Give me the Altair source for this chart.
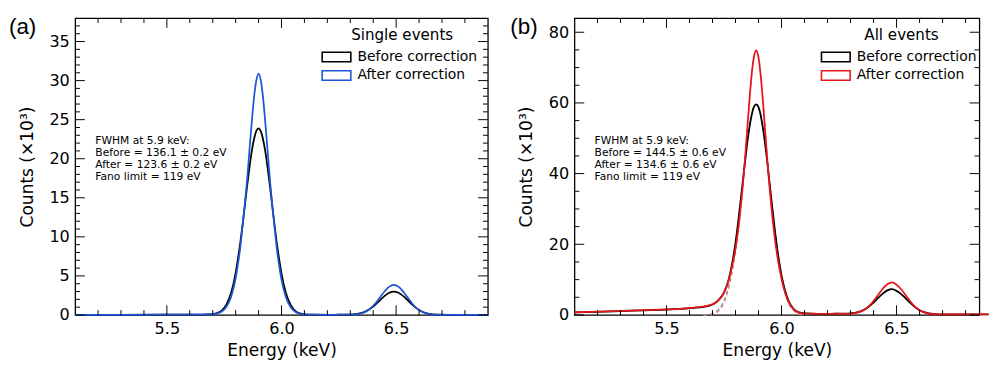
import altair as alt
import pandas as pd

FONT = "DejaVu Sans"
BLUE = "#1f55d8"
RED = "#e8161b"
SERIES = ["Before correction", "After correction"]

# ---------------- panel (a): single events ----------------
energy_a = [5.10, 5.30, 5.50, 5.60, 5.66, 5.70, 5.72, 5.74, 5.76, 5.78, 5.80,
            5.81, 5.82, 5.83, 5.84, 5.85, 5.86, 5.87, 5.88, 5.89, 5.90,
            5.91, 5.92, 5.93, 5.94, 5.95, 5.96, 5.97, 5.98, 5.99, 6.00,
            6.02, 6.04, 6.06, 6.08, 6.10, 6.14, 6.20, 6.25,
            6.29, 6.31, 6.33, 6.35, 6.37, 6.39, 6.41, 6.43, 6.45, 6.47, 6.49,
            6.51, 6.53, 6.55, 6.57, 6.59, 6.61, 6.63, 6.65, 6.67, 6.69,
            6.74, 6.80, 6.90]
before_a = [0.02, 0.02, 0.03, 0.04, 0.06, 0.12, 0.25, 0.58, 1.35, 2.8, 5.4,
            7.2, 9.2, 11.5, 14.0, 16.5, 18.8, 20.9, 22.5, 23.55, 23.9,
            23.5, 22.4, 20.8, 18.7, 16.4, 13.9, 11.4, 9.1, 7.1, 5.3,
            2.75, 1.28, 0.52, 0.2, 0.08, 0.03, 0.02, 0.03,
            0.04, 0.07, 0.13, 0.26, 0.5, 0.86, 1.34, 1.9, 2.44, 2.85, 3.0,
            2.85, 2.44, 1.9, 1.33, 0.84, 0.48, 0.25, 0.12, 0.05, 0.03,
            0.02, 0.02, 0.02]
after_a = [0.02, 0.02, 0.03, 0.04, 0.06, 0.1, 0.2, 0.45, 1.05, 2.3, 4.7,
           6.5, 8.6, 11.3, 14.2, 17.3, 21.0, 24.6, 27.8, 30.0, 30.9,
           30.0, 27.7, 24.4, 20.8, 17.1, 14.0, 11.1, 8.4, 6.3, 4.5,
           2.2, 1.0, 0.42, 0.16, 0.07, 0.03, 0.02, 0.03,
           0.03, 0.05, 0.1, 0.22, 0.46, 0.88, 1.5, 2.27, 3.03, 3.63, 3.85,
           3.63, 3.02, 2.25, 1.47, 0.85, 0.44, 0.2, 0.09, 0.04, 0.02,
           0.02, 0.02, 0.02]

# ---------------- panel (b): all events ----------------
energy_b = [5.10, 5.20, 5.30, 5.40, 5.50, 5.56, 5.62, 5.66, 5.69, 5.71, 5.73, 5.75, 5.77, 5.79,
            5.80, 5.81, 5.82, 5.83, 5.84, 5.85, 5.86, 5.87, 5.88, 5.89,
            5.90, 5.91, 5.92, 5.93, 5.94, 5.95, 5.96, 5.97, 5.98, 5.99,
            6.01, 6.03, 6.05, 6.07, 6.09, 6.13, 6.18, 6.24,
            6.28, 6.30, 6.32, 6.34, 6.36, 6.38, 6.40, 6.42, 6.44, 6.46, 6.48,
            6.50, 6.52, 6.54, 6.56, 6.58, 6.60, 6.62, 6.64, 6.66, 6.68,
            6.74, 6.80, 6.90]
before_b = [0.7, 0.9, 1.1, 1.3, 1.5, 1.7, 2.0, 2.3, 2.7, 3.3, 4.5, 6.3, 10.0, 16.3,
            20.5, 25.5, 31.1, 36.8, 42.6, 48.1, 52.8, 56.5, 58.9, 59.6,
            58.8, 56.3, 52.5, 47.7, 42.1, 36.2, 30.3, 24.6, 19.4, 14.9,
            8.2, 4.1, 1.9, 0.9, 0.5, 0.35, 0.3, 0.35,
            0.35, 0.43, 0.61, 0.94, 1.51, 2.36, 3.52, 4.81, 6.06, 6.97, 7.3,
            6.82, 5.91, 4.66, 3.37, 2.21, 1.36, 0.79, 0.46, 0.28, 0.2,
            0.15, 0.15, 0.15]
after_b = [0.75, 0.95, 1.15, 1.35, 1.55, 1.75, 2.05, 2.4, 2.8, 3.4, 4.5, 6.3, 9.8, 15.3,
           18.8, 23.4, 28.9, 35.4, 43.1, 51.6, 60.3, 67.9, 73.0, 74.9,
           72.8, 67.4, 59.8, 51.0, 42.4, 34.6, 27.9, 22.2, 17.4, 13.5,
           7.5, 3.8, 1.75, 0.8, 0.45, 0.35, 0.3, 0.35,
           0.34, 0.4, 0.55, 0.89, 1.51, 2.52, 3.96, 5.7, 7.43, 8.71, 9.2,
           8.56, 7.28, 5.55, 3.81, 2.37, 1.36, 0.74, 0.4, 0.25, 0.19,
           0.15, 0.15, 0.15]
fit_energy_b = [5.66, 5.68, 5.70, 5.72, 5.74, 5.76, 5.78, 5.80, 5.82, 5.84, 5.86, 5.88,
                5.89, 5.90, 5.92, 5.94, 5.96, 5.98, 6.00, 6.02, 6.04, 6.06, 6.08, 6.10]
fit_before_b = [0.04, 0.14, 0.42, 1.14, 2.73, 5.88, 11.35, 19.6, 30.5, 42.3, 52.7, 58.8,
                59.6, 58.8, 52.7, 42.3, 30.5, 19.6, 11.35, 5.88, 2.73, 1.14, 0.42, 0.14]
fit_after_b = [0.01, 0.05, 0.2, 0.8, 2.2, 5.2, 10.3, 17.8, 28.3, 42.8, 60.2, 73.0,
               74.9, 73.0, 60.2, 42.8, 28.3, 17.8, 10.3, 5.2, 2.2, 0.8, 0.2, 0.05]

# ---------------- ticks & labels ----------------
x_major = [5.5, 6.0, 6.5]
x_minor = [5.2, 5.3, 5.4, 5.6, 5.7, 5.8, 5.9, 6.1, 6.2, 6.3, 6.4, 6.6, 6.7, 6.8]
y_major_a = [0, 5, 10, 15, 20, 25, 30, 35]
y_minor_a = [v for v in range(1, 38) if v % 5 != 0]
y_major_b = [0, 20, 40, 60, 80]
y_minor_b = [v for v in range(5, 84, 5) if v % 20 != 0]

text_a = ["FWHM at 5.9 keV:", "Before = 136.1 \u00b1 0.2 eV",
          "After = 123.6 \u00b1 0.2 eV", "Fano limit = 119 eV"]
text_b = ["FWHM at 5.9 keV:", "Before = 144.5 \u00b1 0.6 eV",
          "After = 134.6 \u00b1 0.6 eV", "Fano limit = 119 eV"]

H = 305
W_A = 424
W_B = 416
MAJ = 10
MIN = 5


def tick_layers(xs, ys, xscale, yscale, xaxis, yaxis, W, length):
    layers = []
    dx = pd.DataFrame({"E": xs})
    dy = pd.DataFrame({"C": ys})
    r = dict(color="black", strokeWidth=1)
    layers.append(alt.Chart(dx).mark_rule(**r).encode(
        x=alt.X("E:Q", scale=xscale, axis=xaxis), y=alt.value(H), y2=alt.value(H - length)))
    layers.append(alt.Chart(dx).mark_rule(**r).encode(
        x=alt.X("E:Q", scale=xscale, axis=xaxis), y=alt.value(0), y2=alt.value(length)))
    layers.append(alt.Chart(dy).mark_rule(**r).encode(
        y=alt.Y("C:Q", scale=yscale, axis=yaxis), x=alt.value(0), x2=alt.value(length)))
    layers.append(alt.Chart(dy).mark_rule(**r).encode(
        y=alt.Y("C:Q", scale=yscale, axis=yaxis), x=alt.value(W), x2=alt.value(W - length)))
    return layers


def panel(energy, before, after, color_after, xdomain, ymax, ymaj, ymin, W,
          legend_title, texts, tag, tag_x, fits=None):
    xscale = alt.Scale(domain=xdomain, nice=False, zero=False)
    yscale = alt.Scale(domain=[0, ymax], nice=False)
    cscale = alt.Scale(domain=SERIES, range=["black", color_after])
    legend = alt.Legend(
        title=legend_title, orient="none", legendX=258, legendY=10,
        symbolType="M-1.55,-0.51H1.55V0.51H-1.55Z", symbolSize=361,
        symbolStrokeWidth=1.6, symbolFillColor="transparent",
        labelFont=FONT, labelFontSize=14.3, labelColor="black", labelOffset=11,
        titleFont=FONT, titleFontSize=15.5, titleFontWeight="normal", titleColor="black",
        titleAnchor="middle", titlePadding=4, rowPadding=0, padding=0)
    xaxis = alt.Axis(values=x_major, format=".1f", title="Energy (keV)", ticks=False,
                     tickSize=0, domain=False, grid=False, labelFont=FONT, labelFontSize=16.5,
                     labelColor="black", titleFont=FONT, titleFontSize=17.5,
                     titleFontWeight="normal", titleColor="black", labelPadding=6,
                     titlePadding=5)
    yaxis = alt.Axis(values=ymaj, format="d", title="Counts (\u00d710\u00b3)", ticks=False,
                     tickSize=0, domain=False, grid=False, labelFont=FONT, labelFontSize=16.5,
                     labelColor="black", titleFont=FONT, titleFontSize=17.5,
                     titleFontWeight="normal", titleColor="black", labelPadding=6,
                     titlePadding=13)
    layers = []
    if fits is not None:
        fe, fb, fa, fcols = fits
        for vals, col in ((fb, fcols[0]), (fa, fcols[1])):
            dff = pd.DataFrame({"E": fe, "C": vals})
            layers.append(alt.Chart(dff).mark_line(
                strokeWidth=1.3, strokeDash=[4, 3], color=col, interpolate="monotone").encode(
                x=alt.X("E:Q", scale=xscale, axis=xaxis),
                y=alt.Y("C:Q", scale=yscale, axis=yaxis)))
    for vals, name in ((before, SERIES[0]), (after, SERIES[1])):
        df = pd.DataFrame({"E": energy, "C": vals, "s": name})
        layers.append(alt.Chart(df).mark_line(strokeWidth=1.8, interpolate="monotone").encode(
            x=alt.X("E:Q", scale=xscale, axis=xaxis),
            y=alt.Y("C:Q", scale=yscale, axis=yaxis),
            color=alt.Color("s:N", scale=cscale, legend=legend)))
    layers += tick_layers(x_major, ymaj, xscale, yscale, xaxis, yaxis, W, MAJ)
    layers += tick_layers(x_minor, ymin, xscale, yscale, xaxis, yaxis, W, MIN)
    layers.append(alt.Chart(pd.DataFrame({"t": [0]})).mark_text(
        align="left", baseline="top", font=FONT, fontSize=11, lineHeight=12.4,
        color="black", text=texts).encode(x=alt.value(20.7), y=alt.value(120)))
    layers.append(alt.Chart(pd.DataFrame({"t": [tag]})).mark_text(
        align="left", baseline="middle", font="Liberation Sans", fontSize=23,
        color="black").encode(x=alt.value(tag_x), y=alt.value(9), text="t:N"))
    return alt.layer(*layers).properties(width=W, height=H)


pa = panel(energy_a, before_a, after_a, BLUE, [5.1, 6.9], 38, y_major_a, y_minor_a, W_A,
           "Single events", text_a, "(a)", -68)
pb = panel(energy_b, before_b, after_b, RED, [5.1, 6.86], 84, y_major_b, y_minor_b, W_B,
           "All events", text_b, "(b)", -66,
           fits=(fit_energy_b, fit_before_b, fit_after_b, ["#8a8a8a", "#c98a8a"]))

chart = alt.hconcat(pa, pb, spacing=17).resolve_scale(color="independent").properties(
    padding={"left": 0, "top": 2.5, "right": 0, "bottom": 0}
).configure(font=FONT).configure_view(stroke="black", strokeWidth=1.3)

chart.save("out.html", embed_options={"renderer": "svg", "actions": False})
